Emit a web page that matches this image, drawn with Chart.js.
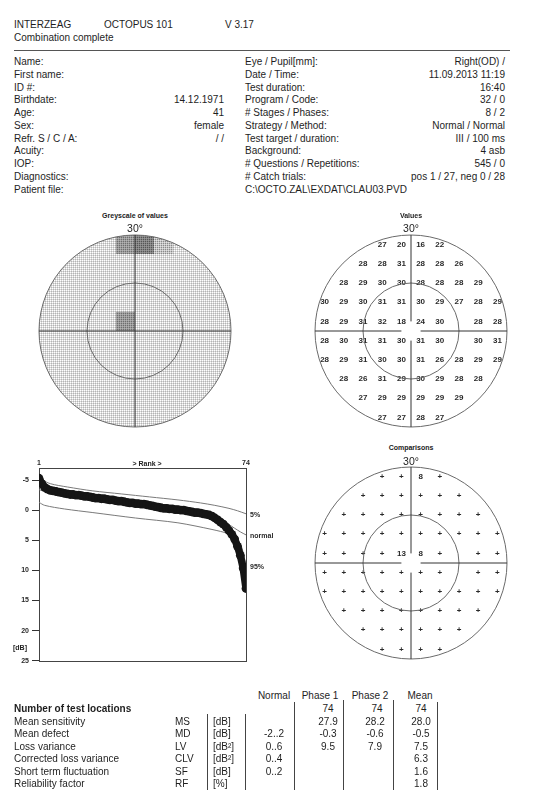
<!DOCTYPE html>
<html lang="en">
<head>
<meta charset="UTF-8">
<meta name="viewport" content="width=device-width, initial-scale=1.0">
<title>Octopus 101 - Combination complete</title>
<script src="https://cdn.jsdelivr.net/npm/chart.js"></script>
<style>
  body { margin: 0; background: #fff; font-family: "Liberation Sans", Arial, sans-serif; color: #1e1e1e; }
  #page { position: relative; width: 544px; height: 800px; overflow: hidden; }
  .t { position: absolute; font-size: 10px; line-height: 12px; white-space: nowrap; }
  .s { position: absolute; font-size: 7px; line-height: 9px; font-weight: bold; white-space: nowrap; color: #222; }
  .deg { position: absolute; font-size: 10.5px; line-height: 12px; white-space: nowrap; }
  .vl { position: absolute; width: 0; border-left: 1px solid #444; }
  .hl { position: absolute; height: 0; border-top: 1px solid #555; }
  canvas { position: absolute; }
</style>
</head>
<body>
<div id="page">
  <div class="hl" style="left:14px;top:50px;width:496px"></div>
  <canvas id="greyscale" width="200" height="200" style="left:35px;top:231px"></canvas>
  <canvas id="values" width="200" height="200" style="left:311px;top:231px"></canvas>
  <canvas id="bebie" width="290" height="218" style="left:0px;top:450px"></canvas>
  <canvas id="comparisons" width="200" height="200" style="left:311px;top:463px"></canvas>
</div>

<script>
// ---- header data ----
const infoLeftLabels = ['Name:', 'First name:', 'ID #:', 'Birthdate:', 'Age:', 'Sex:', 'Refr. S / C / A:', 'Acuity:', 'IOP:', 'Diagnostics:', 'Patient file:'];
const infoLeftValues = ['', '', '', '14.12.1971', '41', 'female', '/ /', '', '', '', ''];
const infoRightLabels = ['Eye / Pupil[mm]:', 'Date / Time:', 'Test duration:', 'Program / Code:', '# Stages / Phases:', 'Strategy / Method:', 'Test target / duration:', 'Background:', '# Questions / Repetitions:', '# Catch trials:', 'C:\\OCTO.ZAL\\EXDAT\\CLAU03.PVD'];
const infoRightValues = ['Right(OD) /', '11.09.2013  11:19', '16:40', '32 / 0', '8 / 2', 'Normal / Normal', 'III / 100 ms', '4 asb', '545 / 0', 'pos 1 / 27, neg 0 / 28', ''];

// ---- test locations (degrees), row by row from top ----
const rowY = [27, 21, 15, 9, 3, -3, -9, -15, -21, -27];
const rowX = [
  [-9, -3, 3, 9],
  [-15, -9, -3, 3, 9, 15],
  [-21, -15, -9, -3, 3, 9, 15, 21],
  [-27, -21, -15, -9, -3, 3, 9, 15, 21, 27],
  [-27, -21, -15, -9, -3, 3, 9, 21, 27],
  [-27, -21, -15, -9, -3, 3, 9, 21, 27],
  [-27, -21, -15, -9, -3, 3, 9, 15, 21, 27],
  [-21, -15, -9, -3, 3, 9, 15, 21],
  [-15, -9, -3, 3, 9, 15],
  [-9, -3, 3, 9]
];
const sensValues = [
  [27, 20, 16, 22],
  [28, 28, 31, 28, 28, 26],
  [28, 29, 30, 30, 28, 28, 28, 29],
  [30, 29, 30, 31, 31, 30, 29, 27, 28, 29],
  [28, 29, 31, 32, 18, 24, 30, 28, 28],
  [28, 30, 31, 31, 30, 31, 30, 30, 31],
  [28, 29, 31, 30, 30, 31, 26, 28, 29, 29],
  [28, 26, 31, 29, 30, 29, 28, 28],
  [27, 29, 29, 29, 29, 29],
  [27, 27, 28, 27]
];
const compValues = [
  ['+', '+', '8', '+'],
  ['+', '+', '+', '+', '+', '+'],
  ['+', '+', '+', '+', '+', '+', '+', '+'],
  ['+', '+', '+', '+', '+', '+', '+', '+', '+', '+'],
  ['+', '+', '+', '+', '13', '8', '+', '+', '+'],
  ['+', '+', '+', '+', '+', '+', '+', '+', '+'],
  ['+', '+', '+', '+', '+', '+', '+', '+', '+', '+'],
  ['+', '+', '+', '+', '+', '+', '+', '+'],
  ['+', '+', '+', '+', '+', '+'],
  ['+', '+', '+', '+']
];

// ---- Bebie curve (sorted local defects, dB) ----
const rankDefect = [-5.3, -4.4, -3.8, -3.5, -3.3, -3.2, -3.1, -3.0, -2.9, -2.8,
  -2.7, -2.6, -2.6, -2.5, -2.5, -2.4, -2.3, -2.3, -2.2, -2.1,
  -2.0, -2.0, -1.9, -1.9, -1.8, -1.7, -1.7, -1.6, -1.5, -1.5,
  -1.4, -1.3, -1.2, -1.2, -1.1, -1.1, -1.0, -1.0, -0.9, -0.8,
  -0.7, -0.6, -0.5, -0.4, -0.3, -0.3, -0.2, -0.2, -0.1, -0.1,
  0.0, 0.0, 0.1, 0.2, 0.3, 0.4, 0.4, 0.5, 0.6, 0.7,
  0.8, 1.0, 1.3, 1.6, 2.0, 2.3, 2.8, 3.4, 4.0, 4.8,
  6.0, 7.5, 9.6, 13.0];
const p5Rank = [1, 2, 5, 11, 20, 30, 40, 50, 58, 63, 68, 71, 74];
const p5Db = [-5.8, -5.1, -4.4, -3.85, -3.2, -2.7, -2.2, -1.7, -1.2, -0.8, -0.3, 0.1, 0.6];
const normRank = [1, 5, 20, 40, 55, 62, 65, 68, 70, 72, 74];
const normDb = [-3.4, -2.9, -1.8, -0.6, 0.4, 1.2, 1.7, 2.4, 3.0, 3.6, 4.1];
const p95Rank = [1, 3, 10, 20, 35, 50, 62, 68, 70, 72, 73, 74];
const p95Db = [-1.3, -0.8, -0.2, 0.4, 1.3, 2.1, 3.2, 3.9, 4.3, 5.6, 7.0, 9.3];
const rankTicks = [1, 74];

// ---- global indices table ----
const statLabels = ['Mean sensitivity', 'Mean defect', 'Loss variance', 'Corrected loss variance', 'Short term fluctuation', 'Reliability factor'];
const statAbbr = ['MS', 'MD', 'LV', 'CLV', 'SF', 'RF'];
const statUnit = ['[dB]', '[dB]', '[dB²]', '[dB²]', '[dB]', '[%]'];
const statNormal = ['', '-2..2', '0..6', '0..4', '0..2', ''];
const statPhase1 = ['27.9', '-0.3', '9.5', '', '', ''];
const statPhase2 = ['28.2', '-0.6', '7.9', '', '', ''];
const statMean = ['28.0', '-0.5', '7.5', '6.3', '1.6', '1.8'];
const testLocations = ['74', '74', '74'];

// ---- text helpers ----
const page = document.getElementById('page');
function put(text, x, y, align, cls, bold) {
  const d = document.createElement('div');
  d.className = cls || 't';
  d.textContent = text;
  const lh = d.className === 's' ? 9 : 12;
  d.style.top = (y - lh / 2) + 'px';
  if (align === 'r') d.style.right = (544 - x) + 'px';
  else d.style.left = x + 'px';
  if (align === 'c') d.style.transform = 'translateX(-50%)';
  if (bold) d.style.fontWeight = 'bold';
  page.appendChild(d);
}
function vline(x, y0, y1) {
  const d = document.createElement('div');
  d.className = 'vl';
  d.style.left = x + 'px'; d.style.top = y0 + 'px'; d.style.height = (y1 - y0) + 'px';
  page.appendChild(d);
}

put('INTERZEAG', 14, 25);
put('OCTOPUS  101', 104, 25);
put('V 3.17', 225, 25);
put('Combination complete', 14, 38);
infoLeftLabels.forEach((s, i) => {
  const y = 62 + i * 12.75;
  put(s, 14, y);
  if (infoLeftValues[i]) put(infoLeftValues[i], 224, y, 'r');
  put(infoRightLabels[i], 245, y);
  if (infoRightValues[i]) put(infoRightValues[i], 505, y, 'r');
});

put('Greyscale of values', 135, 215, 'c', 's');
put('30°', 135, 228, 'c', 'deg');
put('Values', 411, 215, 'c', 's');
put('30°', 411, 228, 'c', 'deg');
put('Comparisons', 411, 447, 'c', 's');
put('30°', 411, 461, 'c', 'deg');
put('> Rank >', 147, 463, 'c', 's');
put('[dB]', 13, 647, 'l', 's');

// table
put('Normal', 274, 696, 'c');
put('Phase 1', 320, 696, 'c');
put('Phase 2', 370, 696, 'c');
put('Mean', 420, 696, 'c');
put('Number of test locations', 14, 709, 'l', 't', true);
put(testLocations[0], 328, 709, 'c');
put(testLocations[1], 377, 709, 'c');
put(testLocations[2], 421, 709, 'c');
statLabels.forEach((s, i) => {
  const y = 721.5 + i * 12.5;
  put(s, 14, y);
  put(statAbbr[i], 175, y);
  put(statUnit[i], 213, y);
  if (statNormal[i]) put(statNormal[i], 274, y, 'c');
  if (statPhase1[i]) put(statPhase1[i], 328, y, 'c');
  if (statPhase2[i]) put(statPhase2[i], 375, y, 'c');
  put(statMean[i], 421, y, 'c');
});
vline(207, 714, 790);
vline(245, 714, 790);
vline(294, 702, 790);
vline(343, 700, 790);
vline(393, 700, 790);
vline(437, 702, 790);

// ---- charts ----
Chart.defaults.font.family = '"Liberation Sans", Arial, sans-serif';
Chart.defaults.animation = false;

function makePattern(dot, mid, light) {
  const c = document.createElement('canvas');
  c.width = 2; c.height = 2;
  const g = c.getContext('2d');
  g.fillStyle = light; g.fillRect(0, 0, 2, 2);
  g.fillStyle = mid; g.fillRect(1, 0, 1, 1); g.fillRect(0, 1, 1, 1);
  g.fillStyle = dot; g.fillRect(0, 0, 1, 1);
  return g.createPattern(c, 'repeat');
}
const patNormal = makePattern('#b4b4b4', '#dadada', '#ffffff');
const patLight = makePattern('#8a8a8a', '#c4c4c4', '#e2e2e2');
const patMid = makePattern('#6e6e6e', '#9c9c9c', '#b4b4b4');
const patDark = makePattern('#555555', '#848484', '#989898');
function greyFor(v) {
  if (v >= 24) return patNormal;
  if (v >= 21) return patLight;
  if (v >= 17) return patMid;
  return patDark;
}

function locations() {
  const pts = [];
  rowY.forEach((y, r) => rowX[r].forEach(x => pts.push({ x: x, y: y })));
  return pts;
}
const flatSens = sensValues.flat();
const flatComp = compValues.flat();

function centre(chart) {
  const xs = chart.scales.x, ys = chart.scales.y;
  const cx = xs.getPixelForValue(0), cy = ys.getPixelForValue(0);
  return { x: cx, y: cy, u: (xs.getPixelForValue(30) - cx) / 30 };
}

const fieldFrame = {
  id: 'fieldFrame',
  beforeDatasetsDraw(chart, args, opts) {
    if (!opts.fill) return;
    const ctx = chart.ctx, c = centre(chart);
    ctx.save();
    ctx.beginPath(); ctx.arc(c.x, c.y, 30 * c.u, 0, Math.PI * 2);
    ctx.fillStyle = patNormal; ctx.fill();
    ctx.restore();
  },
  beforeDatasetDraw(chart, args, opts) {
    if (!opts.fill) return;
    const ctx = chart.ctx, c = centre(chart);
    ctx.save();
    ctx.beginPath(); ctx.arc(c.x, c.y, 30 * c.u, 0, Math.PI * 2); ctx.clip();
  },
  afterDatasetDraw(chart, args, opts) {
    if (opts.fill) chart.ctx.restore();
  },
  afterDatasetsDraw(chart, args, opts) {
    const ctx = chart.ctx, c = centre(chart);
    ctx.save();
    // text marks
    chart.data.datasets.forEach((ds, i) => {
      if (!ds.marks) return;
      ctx.fillStyle = '#2a2a2a';
      ctx.font = 'bold 8px "Liberation Sans", Arial, sans-serif';
      ctx.textAlign = 'center'; ctx.textBaseline = 'middle';
      chart.getDatasetMeta(i).data.forEach((el, k) => ctx.fillText(ds.marks[k], el.x, el.y));
    });
    // circles
    ctx.strokeStyle = '#6a6a6a'; ctx.lineWidth = 1;
    [30, 15].forEach(r => { ctx.beginPath(); ctx.arc(c.x, c.y, r * c.u, 0, Math.PI * 2); ctx.stroke(); });
    // cross
    const R = 30 * c.u, g = (opts.gap || 0) * c.u;
    ctx.strokeStyle = '#333';
    ctx.beginPath();
    ctx.moveTo(c.x - R, c.y); ctx.lineTo(c.x - g, c.y);
    ctx.moveTo(c.x + g, c.y); ctx.lineTo(c.x + R, c.y);
    ctx.moveTo(c.x, c.y - R); ctx.lineTo(c.x, c.y - g);
    ctx.moveTo(c.x, c.y + g); ctx.lineTo(c.x, c.y + R);
    ctx.stroke();
    ctx.restore();
  }
};

function fieldChart(id, dataset, frameOpts) {
  return new Chart(document.getElementById(id), {
    type: 'scatter',
    data: { datasets: [dataset] },
    options: {
      responsive: false,
      layout: { padding: 4 },
      plugins: { legend: { display: false }, tooltip: { enabled: false }, fieldFrame: frameOpts },
      scales: {
        x: { type: 'linear', min: -30, max: 30, display: false },
        y: { type: 'linear', min: -30, max: 30, display: false }
      }
    },
    plugins: [fieldFrame]
  });
}

fieldChart('greyscale', {
  data: locations(),
  pointStyle: 'rect',
  pointRadius: ctx => {
    const xs = ctx.chart.scales.x;
    return (xs.getPixelForValue(6) - xs.getPixelForValue(0)) / Math.SQRT2;
  },
  pointBorderWidth: 0,
  pointBackgroundColor: ctx => greyFor(flatSens[ctx.dataIndex])
}, { fill: true, gap: 0 });

fieldChart('values', {
  data: locations(),
  pointRadius: 0,
  marks: flatSens.map(String)
}, { gap: 3 });

fieldChart('comparisons', {
  data: locations(),
  pointRadius: 0,
  marks: flatComp
}, { gap: 3 });

// Bebie curve
const boxAndLabels = {
  id: 'boxAndLabels',
  beforeDatasetsDraw(chart) {
    const a = chart.chartArea, ctx = chart.ctx;
    ctx.save();
    ctx.strokeStyle = '#444'; ctx.lineWidth = 1;
    ctx.strokeRect(Math.round(a.left) + 0.5, Math.round(a.top) + 0.5, Math.round(a.right - a.left), Math.round(a.bottom - a.top));
    ctx.restore();
  },
  afterDatasetsDraw(chart) {
    const ctx = chart.ctx;
    ctx.save();
    ctx.fillStyle = '#2a2a2a';
    ctx.font = 'bold 7px "Liberation Sans", Arial, sans-serif';
    ctx.textBaseline = 'middle';
    chart.data.datasets.forEach((ds, i) => {
      if (!ds.endLabel) return;
      const pts = chart.getDatasetMeta(i).data;
      const last = pts[pts.length - 1];
      ctx.fillText(ds.endLabel, last.x + 4, last.y + 1);
    });
    ctx.restore();
  }
};

const tickFont = { size: 7, weight: 'bold' };
new Chart(document.getElementById('bebie'), {
  type: 'line',
  data: {
    datasets: [
      {
        data: rankDefect.map((d, i) => ({ x: i + 1, y: d })),
        borderColor: '#151515', backgroundColor: '#151515',
        borderWidth: 7.5, pointRadius: 4.4, pointBorderWidth: 0, tension: 0
      },
      {
        data: p5Rank.map((r, i) => ({ x: r, y: p5Db[i] })), endLabel: '5%',
        borderColor: '#7a7a7a', borderWidth: 1, pointRadius: 0, tension: 0.3
      },
      {
        data: normRank.map((r, i) => ({ x: r, y: normDb[i] })), endLabel: 'normal',
        borderColor: '#7a7a7a', borderWidth: 1, pointRadius: 0, tension: 0.3
      },
      {
        data: p95Rank.map((r, i) => ({ x: r, y: p95Db[i] })), endLabel: '95%',
        borderColor: '#7a7a7a', borderWidth: 1, pointRadius: 0, tension: 0.3
      }
    ]
  },
  options: {
    responsive: false,
    layout: { padding: { left: 0, right: 44, top: 0, bottom: 6 } },
    plugins: { legend: { display: false }, tooltip: { enabled: false } },
    scales: {
      x: {
        type: 'linear', position: 'top', min: 1, max: 74,
        grid: { display: false, drawTicks: false, tickLength: 0 }, border: { display: false },
        ticks: { font: tickFont, color: '#2a2a2a', padding: 1, maxRotation: 0 },
        afterBuildTicks: s => { s.ticks = rankTicks.map(v => ({ value: v })); },
        afterFit: s => { s.height = 18; }
      },
      y: {
        type: 'linear', reverse: true, min: -7, max: 25,
        grid: { drawOnChartArea: false, tickLength: 7, color: '#333' },
        border: { display: false },
        ticks: { stepSize: 5, font: tickFont, color: '#2a2a2a', padding: 3 },
        afterBuildTicks: s => { s.ticks = s.ticks.filter(t => t.value % 5 === 0); },
        afterFit: s => { s.width = 39; }
      }
    }
  },
  plugins: [boxAndLabels]
});
</script>
</body>
</html>
